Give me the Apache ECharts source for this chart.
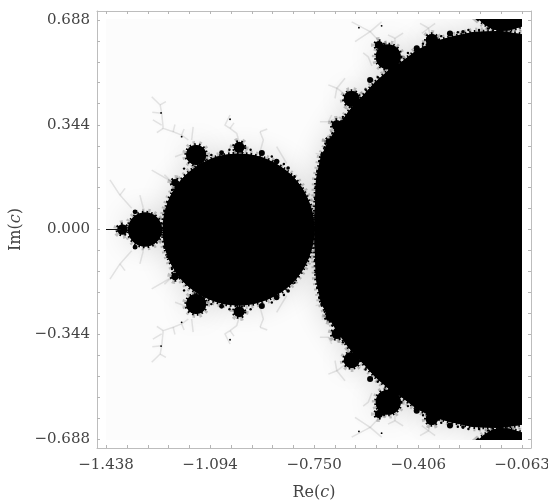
<!DOCTYPE html>
<html><head><meta charset="utf-8">
<style>html,body{margin:0;padding:0;background:#fff}#c{width:548px;height:503px}</style>
<script src="https://cdn.jsdelivr.net/npm/echarts@6/dist/echarts.min.js"></script>
</head><body><div id="c"></div>
<script>
// Axis ticks (Re, Im)
const reTicks = [-1.438,-1.369,-1.300,-1.231,-1.163,-1.094,-1.025,-0.956,-0.888,-0.819,-0.750,-0.681,-0.613,-0.544,-0.475,-0.406,-0.337,-0.269,-0.200,-0.131,-0.063];
const imTicks = [-0.688,-0.619,-0.550,-0.482,-0.413,-0.344,-0.275,-0.206,-0.138,-0.069,0,0.069,0.138,0.206,0.275,0.344,0.413,0.482,0.550,0.619,0.688];
const reLabels = [-1.438,-1.094,-0.750,-0.406,-0.063];
const imLabels = [-0.688,-0.344,0,0.344,0.688];
const reRange = [-1.4678,-0.0332];
const imRange = [-0.7176,0.7176];
const imageRe = [-1.438,-0.063];
const imageIm = [-0.691,0.691];

// Upper edge of the large black body (Re, Im)
const bodyEdge = [[-0.750,0],[-0.749,0.041],[-0.744,0.163],[-0.728,0.238],[-0.704,0.287],[-0.675,0.333],[-0.638,0.386],[-0.593,0.435],[-0.549,0.484],[-0.499,0.527],[-0.466,0.547],[-0.411,0.589],[-0.357,0.616],[-0.301,0.632],[-0.225,0.649],[-0.136,0.652],[-0.063,0.641]];
// Cap of the disc cut by the top and bottom edge
const capEdge = [[-0.208,0.691],[-0.188,0.674],[-0.161,0.658],[-0.136,0.652],[-0.103,0.654],[-0.063,0.667],[-0.063,0.691]];
// Discs and buds, upper half: Re, Im, radius
const discs = [[-1.0,0,0.25],[-1.309,0,0.056],[-1.384,0,0.017]];
const buds = [[-1.140,0.245,0.033],[-0.998,0.270,0.018],[-1.210,0.154,0.012],[-1.056,0.252,0.008],[-0.923,0.251,0.010],[-0.874,0.223,0.009],[-0.836,0.202,0.006],[-1.342,0.058,0.008],
 [-0.505,0.567,0.041],[-0.536,0.606,0.013],[-0.626,0.429,0.026],[-0.675,0.343,0.017],[-0.700,0.288,0.012],[-0.722,0.245,0.008],[-0.361,0.622,0.020],[-0.301,0.644,0.010],[-0.411,0.595,0.010],[-0.565,0.491,0.010],[-0.258,0.649,0.006]];
const teeth = [[-0.747,0.10],[-0.745,0.14],[-0.740,0.19],[-0.733,0.225],[-0.715,0.27],[-0.690,0.315],[-0.655,0.37],[-0.610,0.425],[-0.580,0.46],[-0.540,0.50],[-0.480,0.545],[-0.440,0.58],[-0.390,0.61],[-0.330,0.635],[-0.275,0.648],[-0.240,0.655],[-0.205,0.655],[-0.175,0.66],
 [-1.09,0.245],[-1.03,0.262],[-0.96,0.262],[-0.89,0.24],[-0.85,0.215],[-0.815,0.175],[-0.79,0.13],[-1.18,0.20],[-1.22,0.13],[-1.235,0.09],[-1.245,0.06]];
const specks = [[-1.256,0.383],[-1.028,0.362],[-1.188,0.305],[-0.602,0.663],[-0.527,0.669]];
const spike = [[-1.438,0],[-1.390,0]];
// Grey dendrites, upper half
const filaments = [
 [[-1.166,0.294],[-1.188,0.310],[-1.216,0.321],[-1.249,0.332],[-1.254,0.382],[-1.259,0.409],[-1.287,0.436]],
 [[-1.254,0.343],[-1.283,0.360]],[[-1.254,0.382],[-1.285,0.385]],[[-1.150,0.337],[-1.155,0.294]],
 [[-0.998,0.288],[-1.006,0.316],[-1.028,0.332],[-1.045,0.343],[-1.028,0.376]],
 [[-0.929,0.321],[-0.918,0.294],[-0.929,0.255]],
 [[-1.425,0.163],[-1.392,0.113],[-1.353,0.070]],
 [[-1.287,0.195],[-1.221,0.157]],[[-1.210,0.239],[-1.166,0.255]],[[-1.326,0.113],[-1.315,0.071]],[[-0.874,0.272],[-0.841,0.217]],
 [[-0.626,0.682],[-0.565,0.650],[-0.539,0.622]],[[-0.527,0.682],[-0.565,0.650],[-0.615,0.617]],
 [[-0.400,0.677],[-0.372,0.661],[-0.361,0.617]],[[-0.350,0.677],[-0.372,0.661],[-0.394,0.644]],
 [[-0.703,0.475],[-0.675,0.464],[-0.631,0.431]],[[-0.648,0.497],[-0.675,0.464],[-0.681,0.431]],
 [[-0.731,0.354],[-0.703,0.354],[-0.664,0.370]],[[-0.692,0.376],[-0.703,0.354]],
 [[-0.588,0.580],[-0.571,0.567],[-0.559,0.537]],
 [[-0.506,0.639],[-0.483,0.628],[-0.456,0.645]],[[-0.483,0.628],[-0.483,0.603]],
 [[-1.392,0.113],[-1.375,0.135]],[[-1.216,0.321],[-1.210,0.345]],[[-1.188,0.310],[-1.180,0.330]],[[-1.028,0.332],[-1.015,0.350]],
 [[-0.929,0.321],[-0.905,0.330]],[[-1.249,0.332],[-1.270,0.318]],[[-1.259,0.409],[-1.240,0.420]],[[-1.221,0.157],[-1.245,0.180]],
 [[-0.722,0.245],[-0.745,0.250]],[[-0.700,0.288],[-0.725,0.295]]
];

const withMirror = a => a.concat(a.filter(p => p[1] !== 0).map(p => [p[0], -p[1]].concat(p.slice(2))));
const closedBody = bodyEdge.concat(bodyEdge.slice(1).reverse().map(p => [p[0], -p[1]]));
const polygons = [closedBody, capEdge, capEdge.map(p => [p[0], -p[1]])];
const circleList = withMirror(discs).concat(withMirror(buds),
  withMirror(teeth.map(p => [p[0], p[1], 0.004])), withMirror(specks.map(p => [p[0], p[1], 0.003])));
const lineList = filaments.concat(filaments.map(l => l.map(p => [p[0], -p[1]])));

const clipOf = api => {
  const a = api.coord([imageRe[0], imageIm[1]]), b = api.coord([imageRe[1], imageIm[0]]);
  return {type:'rect', shape:{x:a[0], y:a[1], width:b[0]-a[0], height:b[1]-a[1]}};
};
const halo = {shadowBlur:30, shadowColor:'rgba(0,0,0,0.16)'};
const idx = n => Array.from({length:n}, (_, i) => [i]);
const customBase = {type:'custom', coordinateSystem:'cartesian2d', silent:true, animation:false, clip:true, encode:{x:[], y:[]}};
const shapeOf = (i, api) => {
  if (i < polygons.length) return {type:'polygon', shape:{points:polygons[i].map(q => api.coord(q))}};
  const d = circleList[i - polygons.length], c = api.coord(d);
  return {type:'circle', shape:{cx:c[0], cy:c[1], r:d[2]*303.5}};
};
const isLarge = i => i < polygons.length || circleList[i - polygons.length][2] >= 0.012;
const count = polygons.length + circleList.length;

const font = 'DejaVu Serif';
const fmt = v => (v < 0 ? '\u2212' : '') + Math.abs(v).toFixed(3);
const frame = {lineStyle:{color:'#bdbdbd', width:1}};
const tickStyle = {inside:true, length:3, lineStyle:{color:'#b5b5b5', width:1}};
const nameRich = {r:{fontFamily:font, fontSize:16, color:'#444'}, i:{fontFamily:font, fontSize:16, fontStyle:'italic', color:'#444'}};

const chart = echarts.init(document.getElementById('c'), null, {renderer:'canvas'});
chart.setOption({
  animation:false,
  backgroundColor:'#fff',
  grid:{left:97, right:17, top:11, bottom:55, outerBoundsMode:'none', containLabel:false},
  xAxis:[
    {type:'value', position:'bottom', min:reRange[0], max:reRange[1], splitLine:{show:false}, axisLine:{onZero:false, ...frame},
     axisTick:{...tickStyle, customValues:reTicks},
     axisLabel:{customValues:reLabels, formatter:fmt, margin:10, fontFamily:font, fontSize:15, color:'#444', hideOverlap:false, showMinLabel:true, showMaxLabel:true},
     name:'{r|Re(}{i|c}{r|)}', nameLocation:'middle', nameGap:37, nameTextStyle:{rich:nameRich}},
    {type:'value', position:'top', min:reRange[0], max:reRange[1], splitLine:{show:false}, axisLine:{onZero:false, ...frame},
     axisTick:{...tickStyle, customValues:reTicks}, axisLabel:{show:false}}
  ],
  yAxis:[
    {type:'value', position:'left', min:imRange[0], max:imRange[1], splitLine:{show:false}, axisLine:{onZero:false, ...frame},
     axisTick:{...tickStyle, customValues:imTicks},
     axisLabel:{customValues:imLabels, formatter:fmt, margin:7, fontFamily:font, fontSize:15, color:'#444'},
     name:'{r|Im(}{i|c}{r|)}', nameLocation:'middle', nameGap:70, nameTextStyle:{rich:nameRich}},
    {type:'value', position:'right', min:imRange[0], max:imRange[1], splitLine:{show:false}, axisLine:{onZero:false, ...frame},
     axisTick:{...tickStyle, customValues:imTicks}, axisLabel:{show:false}}
  ],
  series:[
    {...customBase, name:'image', data:idx(1), renderItem:(p, api) => ({type:'rect', shape:clipOf(api).shape, style:{fill:'#fcfcfc'}})},
    {...customBase, name:'halo', data:idx(count), renderItem:(p, api) => {
      if (!(p.dataIndex < polygons.length || circleList[p.dataIndex - polygons.length][2] >= 0.02)) return {type:'group', children:[]};
      return {...shapeOf(p.dataIndex, api), clipPath:clipOf(api), style:{fill:'#000', ...halo}};
    }},
    {...customBase, name:'filaments', data:idx(lineList.length), renderItem:(p, api) => ({
      type:'polyline', clipPath:clipOf(api),
      shape:{points:lineList[p.dataIndex].map(q => api.coord(q))},
      style:{fill:null, stroke:'rgba(130,130,130,0.2)', lineWidth:1.5, lineJoin:'round', shadowBlur:5, shadowColor:'rgba(0,0,0,0.18)'}
    })},
    {...customBase, name:'fuzz', data:idx(count), renderItem:(p, api) => {
      if (!isLarge(p.dataIndex)) return {type:'group', children:[]};
      return {...shapeOf(p.dataIndex, api), clipPath:clipOf(api), style:{fill:null, stroke:'rgba(0,0,0,0.22)', lineWidth:8, lineDash:[2,3.5]}};
    }},
    {...customBase, name:'teeth', data:idx(count), renderItem:(p, api) => {
      if (!isLarge(p.dataIndex)) return {type:'group', children:[]};
      return {...shapeOf(p.dataIndex, api), clipPath:clipOf(api), style:{fill:null, stroke:'#000', lineWidth:3.5, lineDash:[1.5,3]}};
    }},
    {...customBase, name:'black', data:idx(count), renderItem:(p, api) => ({...shapeOf(p.dataIndex, api), clipPath:clipOf(api), style:{fill:'#000'}})},
    {...customBase, name:'spike', data:idx(1), renderItem:(p, api) => ({
      type:'polyline', shape:{points:spike.map(q => api.coord(q))}, style:{fill:null, stroke:'#111', lineWidth:1}
    })}
  ]
});
</script></body></html>
